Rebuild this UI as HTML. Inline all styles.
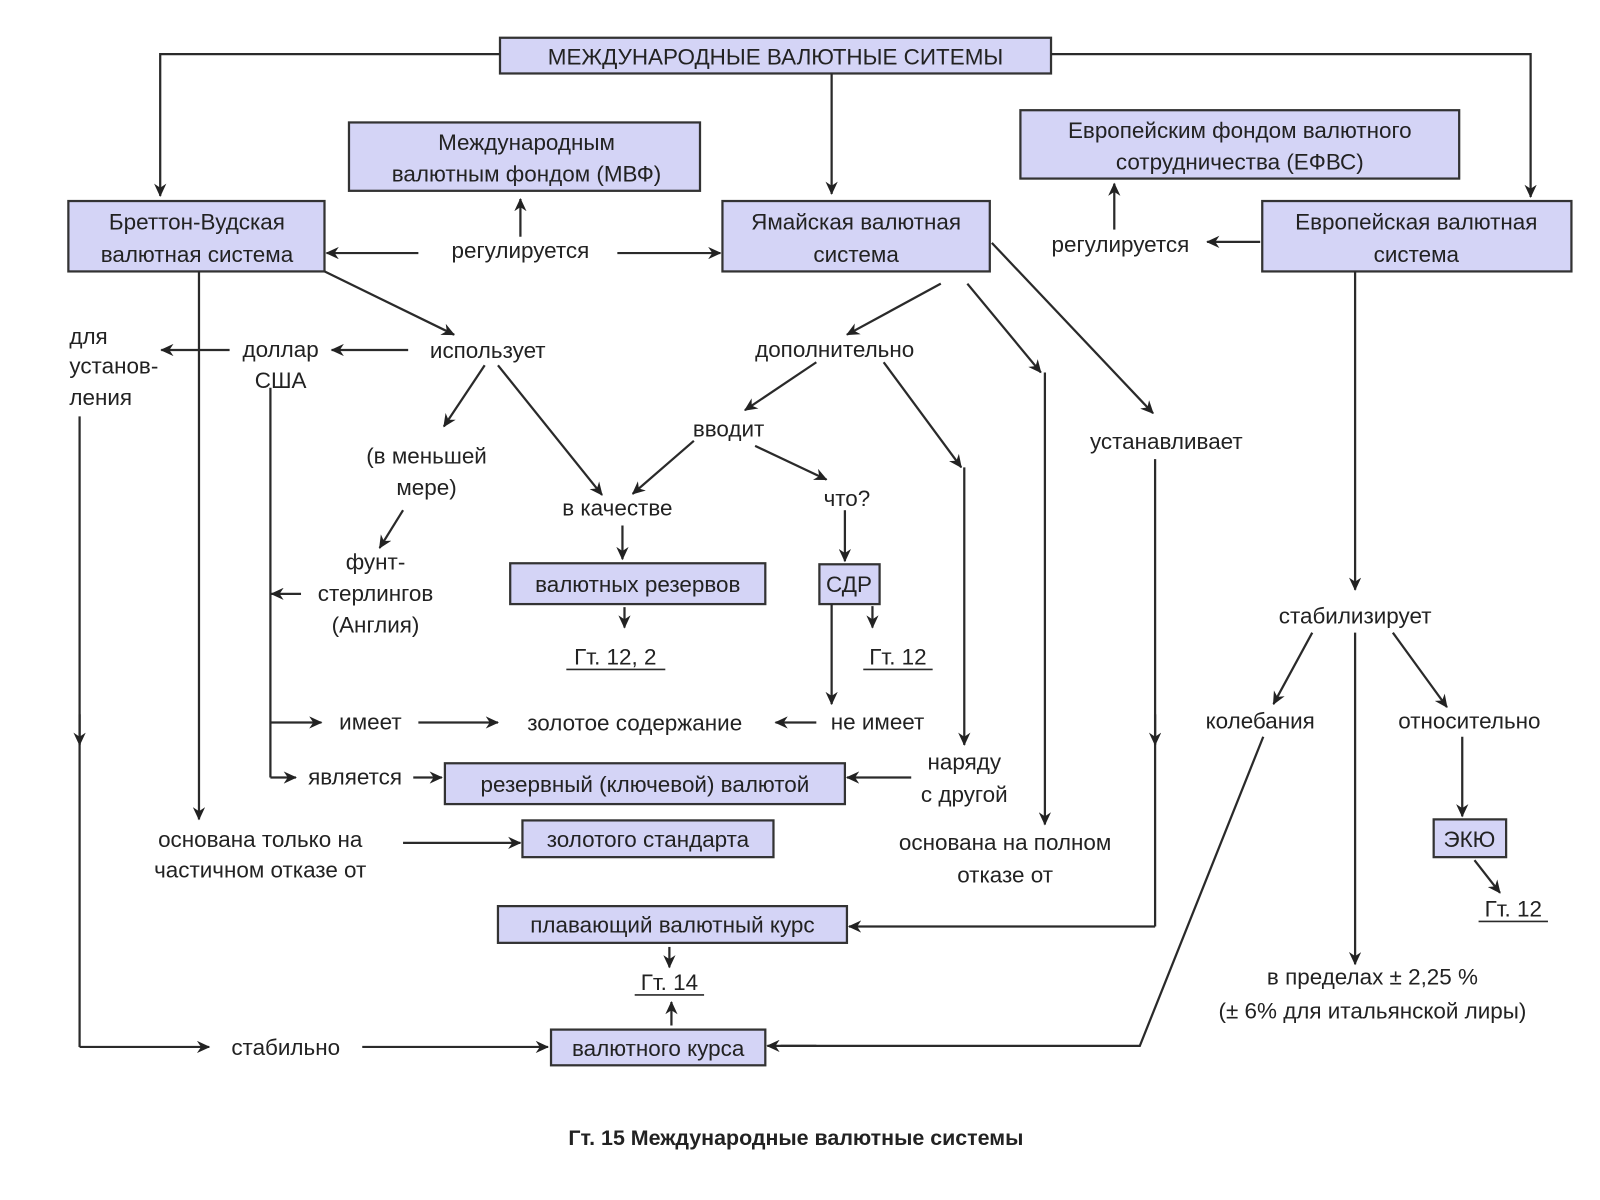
<!DOCTYPE html>
<html><head><meta charset="utf-8"><style>
html,body{margin:0;padding:0;background:#fff;}
svg{display:block;}
text{font-family:"Liberation Sans","DejaVu Sans",sans-serif;font-size:22px;fill:#222;}
.b{fill:#d4d4f6;stroke:#333;stroke-width:2.2;}
.l{stroke:#2a2a2a;stroke-width:2.2;fill:none;}
.a{stroke:#2a2a2a;stroke-width:2.2;fill:none;marker-end:url(#ar);}
</style></head><body>
<svg width="1600" height="1200" viewBox="0 0 1568 1176" xmlns="http://www.w3.org/2000/svg">
<defs><marker id="ar" markerWidth="14" markerHeight="12" refX="12" refY="6" orient="auto" markerUnits="userSpaceOnUse">
<path d="M0,0 L13,6 L0,12 L4,6 Z" fill="#222"/></marker></defs>

<!-- boxes -->
<rect class="b" x="490" y="37" width="540" height="35"/>
<text x="760" y="63" text-anchor="middle">МЕЖДУНАРОДНЫЕ ВАЛЮТНЫЕ СИТЕМЫ</text>
<rect class="b" x="342" y="120" width="344" height="67"/>
<text x="516" y="147" text-anchor="middle">Международным</text>
<text x="516" y="178" text-anchor="middle">валютным фондом (МВФ)</text>
<rect class="b" x="67" y="197" width="251" height="69"/>
<text x="193" y="225" text-anchor="middle">Бреттон-Вудская</text>
<text x="193" y="257" text-anchor="middle">валютная система</text>
<rect class="b" x="708" y="197" width="262" height="69"/>
<text x="839" y="225" text-anchor="middle">Ямайская валютная</text>
<text x="839" y="257" text-anchor="middle">система</text>
<rect class="b" x="1000" y="108" width="430" height="67"/>
<text x="1215" y="135" text-anchor="middle">Европейским фондом валютного</text>
<text x="1215" y="166" text-anchor="middle">сотрудничества (ЕФВС)</text>
<rect class="b" x="1237" y="197" width="303" height="69"/>
<text x="1388" y="225" text-anchor="middle">Европейская валютная</text>
<text x="1388" y="257" text-anchor="middle">система</text>
<rect class="b" x="512" y="804" width="246" height="36"/>
<text x="635" y="830" text-anchor="middle">золотого стандарта</text>
<rect class="b" x="540" y="1009" width="210" height="35"/>
<text x="645" y="1035" text-anchor="middle">валютного курса</text>
<rect class="b" x="436" y="748" width="392" height="40"/>
<text x="632" y="776" text-anchor="middle">резервный (ключевой) валютой</text>
<rect class="b" x="500" y="552" width="250" height="40"/>
<text x="625" y="580" text-anchor="middle">валютных резервов</text>
<rect class="b" x="803" y="553" width="59" height="39"/>
<text x="832" y="580" text-anchor="middle">СДР</text>
<rect class="b" x="488" y="888" width="342" height="36"/>
<text x="659" y="914" text-anchor="middle">плавающий валютный курс</text>
<rect class="b" x="1405" y="803" width="71" height="37"/>
<text x="1440" y="830" text-anchor="middle">ЭКЮ</text>

<!-- top connectors -->
<path class="a" d="M490,53 H157 V192"/>
<path class="a" d="M1030,53 H1500 V193"/>
<path class="a" d="M815,72 V190"/>

<!-- regulates -->
<text x="510" y="253" text-anchor="middle">регулируется</text>
<path class="a" d="M410,248 H320"/>
<path class="a" d="M605,248 H706"/>
<path class="a" d="M510,232 V195"/>
<text x="1098" y="247" text-anchor="middle">регулируется</text>
<path class="a" d="M1235,237 H1183"/>
<path class="a" d="M1092,225 V180"/>

<!-- Bretton side -->
<path class="a" d="M318,266 L445,328"/>
<text x="478" y="351" text-anchor="middle">использует</text>
<path class="a" d="M400,343 H325"/>
<text x="275" y="350" text-anchor="middle">доллар</text>
<text x="275" y="380" text-anchor="middle">США</text>
<path class="a" d="M225,343 H158"/>
<text x="68" y="337">для</text>
<text x="68" y="366">установ-</text>
<text x="68" y="397">ления</text>
<path class="a" d="M195,266 V803"/>
<text x="255" y="830" text-anchor="middle">основана только на</text>
<text x="255" y="860" text-anchor="middle">частичном отказе от</text>
<path class="a" d="M395,826 H510"/>
<path class="l" d="M78,408 V1026"/>
<path class="a" d="M78,700 V730"/>
<path class="a" d="M78,1026 H205"/>
<text x="280" y="1034" text-anchor="middle">стабильно</text>
<path class="a" d="M355,1026 H537"/>

<path class="l" d="M265,380 V762"/>
<path class="a" d="M295,582 H266"/>
<text x="368" y="558" text-anchor="middle">фунт-</text>
<text x="368" y="589" text-anchor="middle">стерлингов</text>
<text x="368" y="620" text-anchor="middle">(Англия)</text>
<path class="a" d="M265,708 H315"/>
<text x="363" y="715" text-anchor="middle">имеет</text>
<path class="a" d="M410,708 H488"/>
<text x="622" y="716" text-anchor="middle">золотое содержание</text>
<path class="a" d="M265,762 H290"/>
<text x="348" y="769" text-anchor="middle">является</text>
<path class="a" d="M405,762 H433"/>

<path class="a" d="M475,358 L435,418"/>
<text x="418" y="454" text-anchor="middle">(в меньшей</text>
<text x="418" y="485" text-anchor="middle">мере)</text>
<path class="a" d="M395,500 L372,537"/>
<path class="a" d="M488,358 L590,485"/>
<text x="605" y="505" text-anchor="middle">в качестве</text>
<path class="a" d="M610,515 V548"/>
<path class="a" d="M612,595 V615"/>
<text x="603" y="651" text-anchor="middle">Гт. 12, 2</text>
<path class="l" d="M555,656 H652" style="stroke-width:1.6"/>

<!-- Jamaica side -->
<path class="a" d="M922,278 L830,328"/>
<text x="818" y="350" text-anchor="middle">дополнительно</text>
<path class="a" d="M800,355 L730,402"/>
<text x="714" y="428" text-anchor="middle">вводит</text>
<path class="a" d="M680,432 L620,484"/>
<path class="a" d="M740,437 L810,470"/>
<text x="830" y="496" text-anchor="middle">что?</text>
<path class="a" d="M828,500 V550"/>
<path class="a" d="M855,594 V615"/>
<text x="880" y="651" text-anchor="middle">Гт. 12</text>
<path class="l" d="M846,656 H914" style="stroke-width:1.6"/>
<path class="a" d="M815,592 V690"/>
<text x="860" y="715" text-anchor="middle">не имеет</text>
<path class="a" d="M800,708 H760"/>
<path class="a" d="M866,355 L942,458"/>
<path class="a" d="M945,458 V730"/>
<text x="945" y="754" text-anchor="middle">наряду</text>
<text x="945" y="786" text-anchor="middle">с другой</text>
<path class="a" d="M893,762 H830"/>
<path class="a" d="M948,278 L1020,365"/>
<path class="a" d="M1024,365 V808"/>
<text x="985" y="833" text-anchor="middle">основана на полном</text>
<text x="985" y="865" text-anchor="middle">отказе от</text>
<path class="a" d="M972,238 L1130,405"/>
<text x="1143" y="440" text-anchor="middle">устанавливает</text>
<path class="l" d="M1132,450 V908"/>
<path class="a" d="M1132,700 V730"/>
<path class="a" d="M1132,908 H832"/>
<path class="a" d="M656,928 V948"/>
<text x="656" y="970" text-anchor="middle">Гт. 14</text>
<path class="l" d="M622,975 H690" style="stroke-width:1.6"/>
<path class="a" d="M658,1005 V982"/>

<!-- European side -->
<path class="a" d="M1328,266 V578"/>
<text x="1328" y="611" text-anchor="middle">стабилизирует</text>
<path class="a" d="M1286,620 L1248,690"/>
<text x="1235" y="714" text-anchor="middle">колебания</text>
<path class="l" d="M1238,722 L1117,1025 H765"/>
<path class="a" d="M800,1025 H752"/>
<path class="a" d="M1328,620 V945"/>
<text x="1345" y="965" text-anchor="middle">в пределах ± 2,25 %</text>
<text x="1345" y="998" text-anchor="middle">(± 6% для итальянской лиры)</text>
<path class="a" d="M1365,620 L1418,693"/>
<text x="1440" y="714" text-anchor="middle">относительно</text>
<path class="a" d="M1433,722 V800"/>
<path class="a" d="M1445,843 L1470,875"/>
<text x="1483" y="898" text-anchor="middle">Гт. 12</text>
<path class="l" d="M1449,903 H1517" style="stroke-width:1.6"/>

<text x="780" y="1122" text-anchor="middle" style="font-weight:bold;font-size:21px">Гт. 15 Международные валютные системы</text>
</svg>
</body></html>
